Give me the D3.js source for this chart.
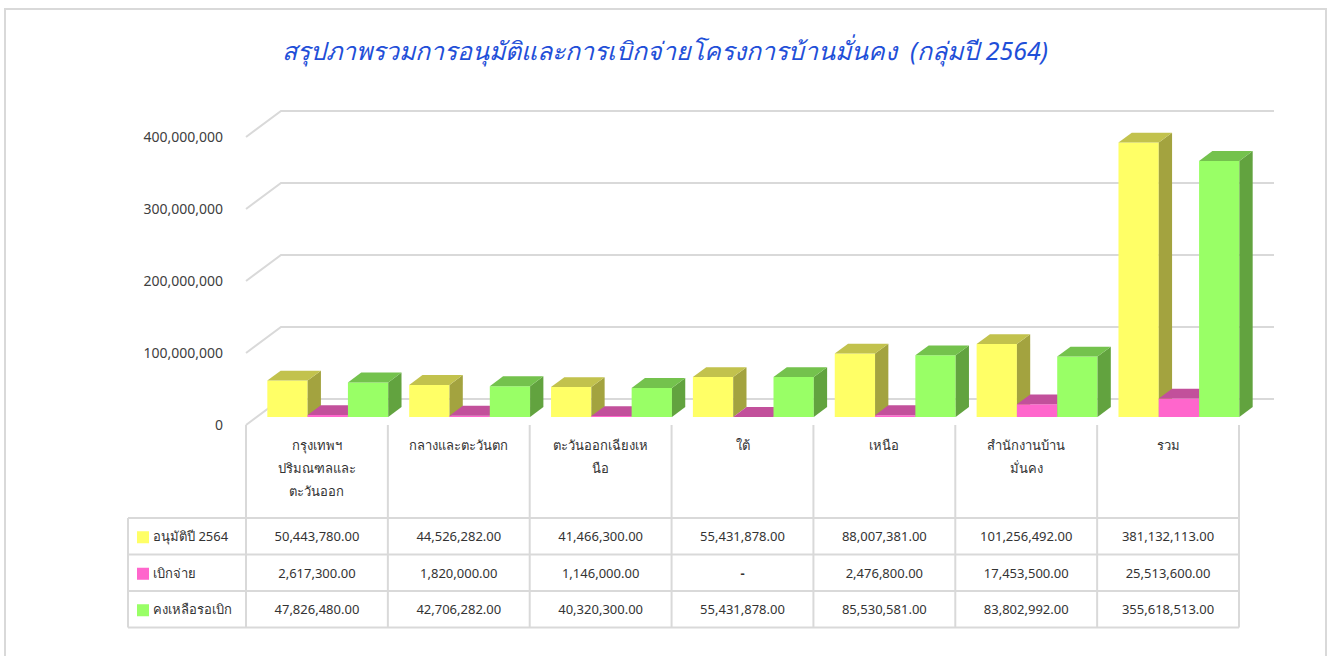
<!DOCTYPE html>
<html>
<head>
<meta charset="utf-8">
<script src="https://cdn.jsdelivr.net/npm/d3@7"></script>
<style>
  body { margin: 0; background: #fff; }
  svg { display: block; font-family: Tahoma, "Noto Sans", "DejaVu Sans", sans-serif; }
  .title { white-space: pre; }
</style>
</head>
<body>
<div id="chart"></div>
<script>
var categories = ["bkk", "central", "northeast", "south", "north", "office", "total"];
var categoryLabels = [
  ["กรุงเทพฯ", "ปริมณฑลและ", "ตะวันออก"],
  ["กลางและตะวันตก"],
  ["ตะวันออกเฉียงเห", "นือ"],
  ["ใต้"],
  ["เหนือ"],
  ["สำนักงานบ้าน", "มั่นคง"],
  ["รวม"]
];
var seriesNames = ["อนุมัติปี 2564", "เบิกจ่าย", "คงเหลือรอเบิก"];
var approved = [50443780, 44526282, 41466300, 55431878, 88007381, 101256492, 381132113];
var disbursed = [2617300, 1820000, 1146000, 0, 2476800, 17453500, 25513600];
var remaining = [47826480, 42706282, 40320300, 55431878, 85530581, 83802992, 355618513];
var yTicks = [0, 100000000, 200000000, 300000000, 400000000];

var W = 1331, H = 656;
var series = [approved, disbursed, remaining];
// front, top, side shades per series
var colors = [
  {front: "#ffff66", top: "#c2c24d", side: "#a3a33f"},
  {front: "#ff66cc", top: "#c2509b", side: "#a3407f"},
  {front: "#99ff66", top: "#74c24d", side: "#62a33f"}
];

var svg = d3.select("#chart").append("svg")
  .attr("width", W).attr("height", H);

// outer frame
svg.append("rect")
  .attr("x", 5).attr("y", 9).attr("width", 1321).attr("height", 660)
  .attr("fill", "none").attr("stroke", "#d9d9d9").attr("stroke-width", 2);

svg.append("text")
  .attr("class", "title")
  .attr("x", 665).attr("y", 60)
  .attr("text-anchor", "middle")
  .attr("font-size", 25).attr("font-style", "italic")
  .attr("fill", "#1f4fd8")
  .text("สรุปภาพรวมการอนุมัติและการเบิกจ่ายโครงการบ้านมั่นคง  (กลุ่มปี 2564)");

// 3d geometry: front plane scales + depth offset
var depthX = 35, depthY = -26;
var x = d3.scaleBand().domain(categories).range([246, 1239]);
var xs = d3.scaleBand().domain(d3.range(3)).range([0, x.bandwidth()]).paddingOuter(0.26);
var y = d3.scaleLinear().domain([0, 400000000]).range([425, 137]);
var d0 = 0.31, d1 = 0.69;

function pt(px, v, d) { return [px + depthX * d, y(v) + depthY * d]; }

// back wall gridlines with side-wall diagonals
var grid = svg.append("g");
yTicks.forEach(function(t) {
  var p = [pt(x.range()[0], t, 0), pt(x.range()[0], t, 1), pt(x.range()[1], t, 1)];
  grid.append("polyline")
    .attr("points", p.map(function(q) { return q.join(","); }).join(" "))
    .attr("fill", "none").attr("stroke", "#d9d9d9").attr("stroke-width", 2);
});

var fmtAxis = d3.format(",");
svg.append("g").selectAll("text")
  .data(yTicks).enter().append("text")
  .attr("x", 223).attr("y", function(d) { return y(d) + 5; })
  .attr("text-anchor", "end").attr("font-size", 14).attr("fill", "#404040")
  .text(function(d) { return fmtAxis(d); });

// bars
var bars = svg.append("g");
categories.forEach(function(c, i) {
  series.forEach(function(s, k) {
    var v = s[i];
    var xl = x(c) + xs(k), xr = xl + xs.bandwidth();
    var col = colors[k];
    var poly = function(pts, fill) {
      bars.append("polygon")
        .attr("points", pts.map(function(q) { return q.join(","); }).join(" "))
        .attr("fill", fill);
    };
    if (v > 0) {
      poly([pt(xl, 0, d0), pt(xr, 0, d0), pt(xr, v, d0), pt(xl, v, d0)], col.front);
      poly([pt(xr, 0, d0), pt(xr, 0, d1), pt(xr, v, d1), pt(xr, v, d0)], col.side);
    }
    poly([pt(xl, v, d0), pt(xr, v, d0), pt(xr, v, d1), pt(xl, v, d1)], col.top);
  });
});

// data table
var table = svg.append("g");
var lineColor = "#d9d9d9";
var headTop = 425, rowTop = 518, rowH = 36.5, tableLeft = 128;
var tableRight = x.range()[1];
var line = function(x1, y1, x2, y2) {
  table.append("line")
    .attr("x1", x1).attr("y1", y1).attr("x2", x2).attr("y2", y2)
    .attr("stroke", lineColor).attr("stroke-width", 2);
};
categories.forEach(function(c) { line(x(c), headTop, x(c), rowTop + 3 * rowH); });
line(tableRight, headTop, tableRight, rowTop + 3 * rowH);
line(tableLeft, rowTop, tableLeft, rowTop + 3 * rowH);
d3.range(4).forEach(function(r) { line(tableLeft, rowTop + r * rowH, tableRight, rowTop + r * rowH); });

categories.forEach(function(c, i) {
  var t = table.append("text")
    .attr("text-anchor", "middle").attr("font-size", 13).attr("fill", "#333");
  categoryLabels[i].forEach(function(l, j) {
    t.append("tspan").attr("x", x(c) + x.bandwidth() / 2).attr("y", 450 + j * 23).text(l);
  });
});

var fmtVal = d3.format(",.2f");
series.forEach(function(s, k) {
  var cy = rowTop + k * rowH + rowH / 2;
  table.append("rect")
    .attr("x", 137).attr("y", cy - 5).attr("width", 12).attr("height", 12)
    .attr("fill", colors[k].front);
  table.append("text")
    .attr("x", 153).attr("y", cy + 5).attr("font-size", 13).attr("fill", "#333")
    .text(seriesNames[k]);
  categories.forEach(function(c, i) {
    table.append("text")
      .attr("x", x(c) + x.bandwidth() / 2).attr("y", cy + 5)
      .attr("text-anchor", "middle").attr("font-size", 13).attr("fill", "#333")
      .attr("font-weight", s[i] === 0 ? "bold" : null)
      .text(s[i] === 0 ? "-" : fmtVal(s[i]));
  });
});
</script>
</body>
</html>
